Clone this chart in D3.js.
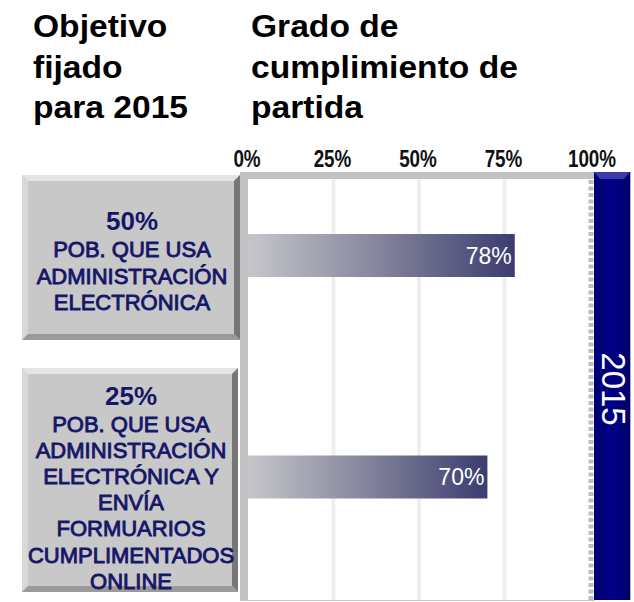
<!DOCTYPE html>
<html>
<head>
<meta charset="utf-8">
<script src="https://cdn.jsdelivr.net/npm/d3@7"></script>
<style>
  html, body { margin: 0; padding: 0; background: #ffffff; }
  svg { display: block; }
</style>
</head>
<body>
<svg id="chart" width="634" height="602"></svg>
<script>
// ---------------- DATA ----------------
const categories = ["Administración electrónica", "Formularios online"];
const targetLabels = ["50%", "25%"];
const categoryLines = [
  ["POB. QUE USA", "ADMINISTRACIÓN", "ELECTRÓNICA"],
  ["POB. QUE USA", "ADMINISTRACIÓN", "ELECTRÓNICA Y", "ENVÍA", "FORMUARIOS", "CUMPLIMENTADOS", "ONLINE"]
];
const values = [78, 70];
const tickValues = [0, 25, 50, 75, 100];
const tickLabels = ["0%", "25%", "50%", "75%", "100%"];
const yearLabel = "2015";
const titleLeft = ["Objetivo", "fijado", "para 2015"];
const titleRight = ["Grado de", "cumplimiento de", "partida"];

// ---------------- LAYOUT ----------------
const svg = d3.select("#chart");
const FONT = "'Liberation Sans', Arial, Helvetica, sans-serif";
const plotTop = 172, plotBottom = 600, plotLeft = 240, plotRight = 595;
const x = d3.scaleLinear().domain([0, 100]).range([248, 590]);
const y = d3.scalePoint().domain(categories).range([255.5, 477]);
const barH = 43;
const boxes = [ {x: 22, y: 175, w: 218, h: 165, first: 230, step: 26.5},
                {x: 22, y: 368, w: 216, h: 224, first: 405, step: 26.1} ];

const defs = svg.append("defs");
const grad = defs.append("linearGradient").attr("id", "barGrad")
  .attr("x1", "0%").attr("x2", "100%").attr("y1", "0%").attr("y2", "0%");
grad.append("stop").attr("offset", "0%").attr("stop-color", "#c6c6ca");
grad.append("stop").attr("offset", "45%").attr("stop-color", "#8a8aa0");
grad.append("stop").attr("offset", "100%").attr("stop-color", "#3c3c70");

const navyGrad = defs.append("linearGradient").attr("id", "navyGrad")
  .attr("x1", "0%").attr("x2", "100%").attr("y1", "0%").attr("y2", "0%");
navyGrad.append("stop").attr("offset", "0%").attr("stop-color", "#000070");
navyGrad.append("stop").attr("offset", "50%").attr("stop-color", "#000088");
navyGrad.append("stop").attr("offset", "100%").attr("stop-color", "#00006a");

// Titles
function titleBlock(lines, x0) {
  svg.append("g").selectAll("text").data(lines).join("text")
    .attr("transform", (d, i) => `translate(${x0},${37 + i * 40.5}) scale(1.05,1)`)
    .attr("font-family", FONT).attr("font-weight", "bold").attr("font-size", 32)
    .attr("fill", "#000").text(d => d);
}
titleBlock(titleLeft, 33);
titleBlock(titleRight, 251);

// Tick labels (condensed bold)
svg.append("g").selectAll("text").data(tickValues).join("text")
  .attr("transform", d => `translate(${x(d) - 1 + (d === 100 ? 3 : 0)},167) scale(0.82,1)`)
  .attr("text-anchor", "middle")
  .attr("font-family", FONT).attr("font-weight", "bold").attr("font-size", 23)
  .attr("fill", "#111")
  .text((d, i) => tickLabels[i]);

// Plot background
svg.append("rect").attr("x", plotLeft).attr("y", plotTop)
  .attr("width", plotRight - plotLeft).attr("height", plotBottom - plotTop)
  .attr("fill", "#ffffff");

// Gridlines
svg.append("g").selectAll("line").data(tickValues.filter(d => d > 0 && d < 100)).join("line")
  .attr("x1", d => x(d)).attr("x2", d => x(d))
  .attr("y1", 179).attr("y2", plotBottom)
  .attr("stroke", "#efefef").attr("stroke-width", 4);

// Top wall and left wall
svg.append("rect").attr("x", plotLeft).attr("y", plotTop)
  .attr("width", plotRight - plotLeft).attr("height", 7).attr("fill", "#c2c2c2");
svg.append("rect").attr("x", plotLeft).attr("y", plotTop)
  .attr("width", 8).attr("height", plotBottom - plotTop).attr("fill", "#c2c2c2");
svg.append("line").attr("x1", plotLeft).attr("x2", plotRight)
  .attr("y1", plotBottom + 0.5).attr("y2", plotBottom + 0.5)
  .attr("stroke", "#c8c8c8").attr("stroke-width", 1);

// Dotted target line at 100%
svg.append("line").attr("x1", x(100) + 1).attr("x2", x(100) + 1)
  .attr("y1", 180).attr("y2", plotBottom)
  .attr("stroke", "#bdbdbd").attr("stroke-width", 5).attr("stroke-dasharray", "4,2.5");

// Navy year band
const bandX = 594, bandW = 36;
svg.append("rect").attr("x", bandX).attr("y", plotTop)
  .attr("width", bandW).attr("height", plotBottom - plotTop)
  .attr("fill", "url(#navyGrad)");
svg.append("path")
  .attr("d", `M${bandX},${plotTop} L${bandX + bandW},${plotTop} L${bandX + bandW - 6},${plotTop + 7} L${bandX + 6},${plotTop + 7} Z`)
  .attr("fill", "#3a3aa8");
svg.append("line").attr("x1", bandX + bandW + 0.5).attr("x2", bandX + bandW + 0.5)
  .attr("y1", plotTop).attr("y2", plotBottom)
  .attr("stroke", "#b0b0b0");
svg.append("text")
  .attr("transform", `translate(${bandX + 8},${(plotTop + plotBottom) / 2 + 3}) rotate(90)`)
  .attr("text-anchor", "middle")
  .attr("font-family", FONT).attr("font-size", 33)
  .attr("fill", "#ffffff")
  .text(yearLabel);

// Bars
svg.append("g").selectAll("rect").data(categories).join("rect")
  .attr("x", x(0))
  .attr("y", d => y(d) - barH / 2)
  .attr("width", (d, i) => x(values[i]) - x(0))
  .attr("height", barH)
  .attr("fill", "url(#barGrad)");
svg.append("g").selectAll("text").data(categories).join("text")
  .attr("x", (d, i) => x(values[i]) - 3)
  .attr("y", d => y(d) + 8)
  .attr("text-anchor", "end")
  .attr("font-family", FONT).attr("font-size", 23)
  .attr("fill", "#ffffff")
  .text((d, i) => values[i] + "%");

// Label boxes (bevelled)
const bg = svg.append("g").selectAll("g").data(categories).join("g");
bg.each(function (d, i) {
  const b = boxes[i];
  const g = d3.select(this);
  const e = 6;
  g.append("rect").attr("x", b.x).attr("y", b.y).attr("width", b.w).attr("height", b.h).attr("fill", "#c8c8c8");
  g.append("path").attr("d", `M${b.x},${b.y} L${b.x + b.w},${b.y} L${b.x + b.w - e},${b.y + e} L${b.x + e},${b.y + e} Z`).attr("fill", "#e4e4e4");
  g.append("path").attr("d", `M${b.x},${b.y} L${b.x + e},${b.y + e} L${b.x + e},${b.y + b.h - e} L${b.x},${b.y + b.h} Z`).attr("fill", "#d8d8d8");
  g.append("path").attr("d", `M${b.x + b.w},${b.y} L${b.x + b.w},${b.y + b.h} L${b.x + b.w - e},${b.y + b.h - e} L${b.x + b.w - e},${b.y + e} Z`).attr("fill", "#777777");
  g.append("path").attr("d", `M${b.x},${b.y + b.h} L${b.x + b.w},${b.y + b.h} L${b.x + b.w - e},${b.y + b.h - e} L${b.x + e},${b.y + b.h - e} Z`).attr("fill", "#9a9a9a");
  const cx = b.x + b.w / 2 + 1;
  g.append("text").attr("x", cx).attr("y", b.first)
    .attr("text-anchor", "middle").attr("font-family", FONT).attr("font-weight", "bold")
    .attr("font-size", 26).attr("fill", "#161668").text(targetLabels[i]);
  g.selectAll("text.l").data(categoryLines[i]).join("text").attr("class", "l")
    .attr("x", cx).attr("y", (t, j) => b.first + 27 + j * b.step)
    .attr("text-anchor", "middle").attr("font-family", FONT)
    .attr("font-size", 22).attr("fill", "#161668")
    .attr("stroke", "#161668").attr("stroke-width", 0.9)
    .text(t => t);
});
</script>
</body>
</html>
